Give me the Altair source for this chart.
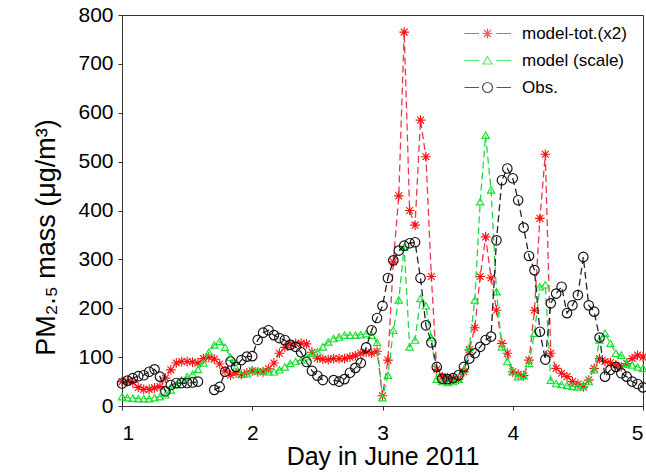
import altair as alt
import pandas as pd

# hourly samples, 1 June 00h (day 1.0) to 5 June 00h (day 5.0)
hours = list(range(97))

red = [50, 50, 48, 38, 34, 34, 37, 40, 57, 74, 88, 91, 91, 90, 88, 97, 100, 96, 86, 72, 63, 68, 64, 68,
       72, 70, 70, 76, 88, 108, 120, 127, 128, 128, 127, 110, 98, 96, 95, 97, 97, 97, 100, 103, 108, 110, 108, 112,
       21, 94, 295, 430, 765, 400, 370, 585, 510, 265, 75, 60, 58, 55, 55, 70, 115, 160, 265, 346, 262, 196, 128, 108,
       70, 65, 62, 94, 196, 384, 515, 108, 77, 67, 60, 50, 45, 39, 53, 77, 97, 91, 89, 84, 80, 87, 97, 104, 100]

green = [19, 17, 16, 15, 15, 15, 17, 19, 23, 33, 43, 53, 60, 65, 75, 88, 110, 125, 132, 120, 100, 78, 65, 66,
         74, 72, 72, 70, 70, 74, 80, 87, 91, 94, 101, 108, 111, 121, 131, 138, 141, 145, 145, 145, 146, 148, 145, 130,
         17, 63, 155, 217, 325, 121, 135, 220, 205, 140, 55, 50, 48, 50, 55, 75, 120, 217, 418, 554, 442, 234, 121, 91,
         70, 60, 62, 87, 149, 244, 248, 53, 46, 44, 42, 40, 39, 43, 50, 74, 135, 149, 128, 108, 104, 87, 84, 80, 77]

obs = [46, 52, 57, 61, 63, 70, 75, 60, 30, 43, 47, 47, 47, 48, 50, None, None, 33, 39, 70, 91, 80, 94, 101,
       102, 135, 150, 155, 145, 139, 135, 125, 121, 110, 90, 72, 62, 53, None, 53, 50, 55, 68, 78, 88, 120, 155, 180,
       205, 262, 298, 318, 328, 333, 335, 262, 165, 130, 80, 56, 55, 57, 63, 80, 97, 108, 121, 135, 142, 339, 462, 486,
       466, 421, 365, 307, 278, 152, 95, 210, 230, 244, 190, 206, 227, 305, 206, 193, 140, 60, 74, 80, 67, 60, 50, 45, 38]

series_names = ["model-tot.(x2)", "model (scale)", "Obs."]
line_colors = ["#e8384f", "#22d84a", "#222222"]
mark_colors = ["#ff1010", "#18e030", "#111111"]
asterisk = "M0,-1L0,1M-1,0L1,0M-0.7,-0.7L0.7,0.7M-0.7,0.7L0.7,-0.7"
mark_shapes = [asterisk, "triangle-up", "circle"]
mark_sizes = [95, 55, 90]
legend_paths = [
    "M-4.6,0L-1.7,0M1.8,0L4.7,0M0,-1L0,1M-1,0L1,0M-0.7,-0.7L0.7,0.7M-0.7,0.7L0.7,-0.7",
    "M-4.6,0L-1.7,0M1.8,0L4.7,0M0,-0.8L0.9,0.7L-0.9,0.7Z",
    "M-4.6,0L-1.7,0M1.8,0L4.7,0M1,0A1,1,0,1,1,-1,0A1,1,0,1,1,1,0Z",
]

rows = []
for name, vals in zip(series_names, [red, green, obs]):
    for h, v in zip(hours, vals):
        rows.append({"day": 1 + h / 24, "value": v, "series": name})
df = pd.DataFrame(rows)

FONT = "Liberation Sans"
x_enc = alt.X("day:Q", scale=alt.Scale(domain=[1, 5], nice=False),
              axis=alt.Axis(values=[1, 2, 3, 4, 5], format="d", title="Day in June 2011"))
y_enc = alt.Y("value:Q", scale=alt.Scale(domain=[0, 800], nice=False),
              axis=alt.Axis(values=list(range(0, 801, 100)), title="PM₂.₅ mass (μg/m³)", titleY=222))

layers = []
for i, name in enumerate(series_names):
    base = alt.Chart(df).transform_filter(alt.datum.series == name)
    layers.append(base.mark_line(stroke=line_colors[i], strokeDash=[7, 4], strokeWidth=1.3)
                  .encode(x=x_enc, y=y_enc))
    layers.append(base.mark_point(shape=mark_shapes[i], filled=False, stroke=mark_colors[i],
                                  size=mark_sizes[i], strokeWidth=1.15, opacity=1)
                  .encode(x=x_enc, y=y_enc))

legend = alt.Legend(title=None, orient="none", legendX=357, legendY=10,
                    labelFont=FONT, labelFontSize=17, labelColor="black",
                    symbolSize=100, symbolStrokeWidth=1.2, symbolFillColor="transparent",
                    labelOffset=26, rowPadding=9)
legend_layer = (alt.Chart(df).transform_filter("false")
                .mark_point(filled=False)
                .encode(x=x_enc, y=y_enc,
                        stroke=alt.Stroke("series:N", scale=alt.Scale(domain=series_names, range=mark_colors),
                                          legend=legend),
                        shape=alt.Shape("series:N", scale=alt.Scale(domain=series_names, range=legend_paths),
                                        legend=legend)))
layers.append(legend_layer)

chart = (alt.layer(*layers)
         .properties(width=521, height=391,
                     autosize=alt.AutoSizeParams(type="none"),
                     padding={"left": 122, "top": 15, "right": 3, "bottom": 67},
                     background="white")
         .configure_view(stroke="#333333", strokeWidth=1)
         .configure_axis(grid=False, domainColor="#333333", tickColor="#333333",
                         labelFont=FONT, labelFontSize=21, labelColor="black",
                         titleFont=FONT, titleColor="black", titleFontWeight="normal",
                         tickSize=4)
         .configure_axisX(labelPadding=12, titlePadding=1, titleFontSize=25)
         .configure_axisY(labelPadding=5, titlePadding=17, titleFontSize=27))

chart.save("out.html", embed_options={"renderer": "svg", "actions": False})
